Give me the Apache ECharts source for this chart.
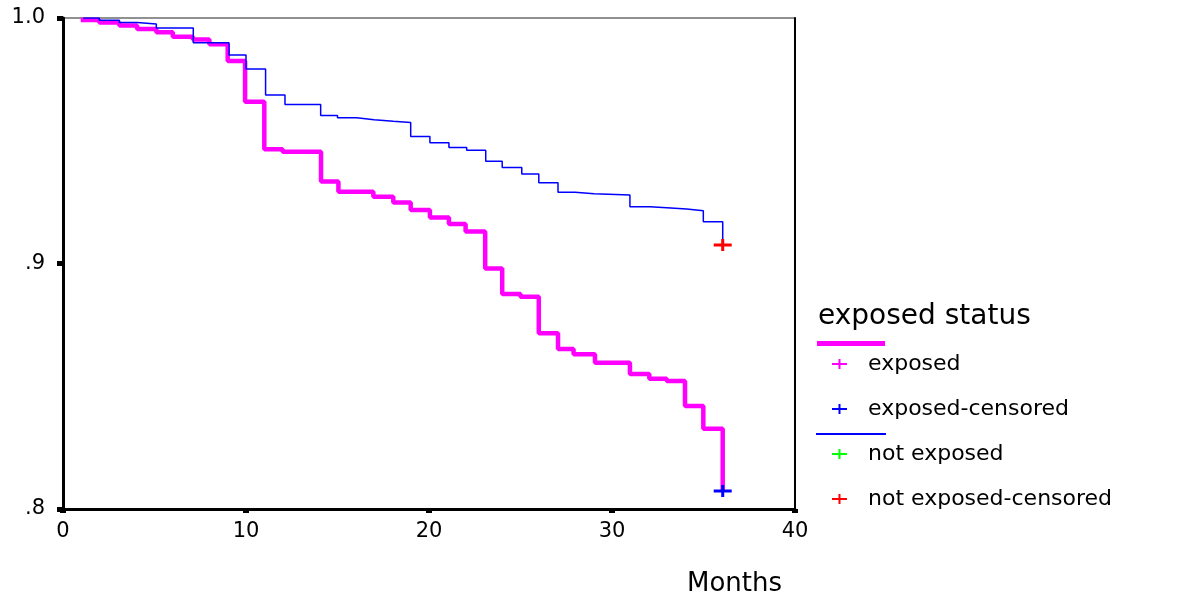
<!DOCTYPE html>
<html>
<head>
<meta charset="utf-8">
<script src="https://cdn.jsdelivr.net/npm/echarts@6/dist/echarts.min.js"></script>
<style>
  html, body { margin: 0; padding: 0; background: #fff; }
  #chart { width: 1178px; height: 599px; }
</style>
</head>
<body>
<div id="chart"></div>
<script>
// survival steps (month, cumulative survival)
var exposedMonths = [0.97, 1.98, 3.08, 4.05, 5.1, 6.0, 7.1, 8.0, 9.0, 9.95, 11.0, 12.0, 14.1, 15.05,
  16.96, 18.05, 19.0, 20.05, 21.09, 22.0, 23.07, 24.0, 25.0, 26.0, 27.05, 27.9, 29.07, 30.98,
  32.04, 32.99, 33.99, 34.99, 36.05]
var exposedSurv = [0.9992, 0.9982, 0.9969, 0.9955, 0.9942, 0.9924, 0.9912, 0.9893, 0.9825, 0.9659,
  0.9465, 0.9455, 0.9334, 0.9292, 0.9272, 0.9248, 0.9218, 0.9187, 0.9161, 0.9130, 0.8980, 0.8876,
  0.8865, 0.8716, 0.8652, 0.8630, 0.8596, 0.8550, 0.8531, 0.8521, 0.8420, 0.8327, 0.8073]

var notExposedMonths = [1.1, 1.98, 3.08, 4.05, 5.1, 7.12, 9.07, 10.0, 11.07, 12.13, 14.08, 15.0,
  16.05, 17.0, 18.05, 19.0, 20.05, 21.09, 22.06, 23.1, 24.0, 25.07, 26.0, 27.05, 27.98, 29.02,
  30.98, 32.08, 32.99, 34.08, 34.99, 36.05]
var notExposedSurv = [1.0, 0.9991, 0.9982, 0.9976, 0.9959, 0.9899, 0.9849, 0.9792, 0.9686, 0.9648,
  0.9603, 0.9594, 0.9586, 0.9579, 0.9574, 0.9517, 0.9492, 0.9472, 0.9461, 0.9416, 0.9391, 0.9365,
  0.9329, 0.9290, 0.9284, 0.9279, 0.9231, 0.9227, 0.9222, 0.9215, 0.9170, 0.9075]

// censored observations
var exposedCensorMonths = [36.05]
var exposedCensorSurv = [0.8073]
var notExposedCensorMonths = [36.05]
var notExposedCensorSurv = [0.9075]

var yTickLabels = {'0.8': '.8', '0.9': '.9', '1': '1.0'}
var legendNames = ['exposed', 'exposed-censored', 'not exposed', 'not exposed-censored']
var legendColors = ['#ff00ff', '#0000ff', '#00ff00', '#ff0000']

var FONT = 'DejaVu Sans'
var PLUS = 'path://M7.5,0H10.5V4.5H18V7.5H10.5V12H7.5V7.5H0V4.5H7.5Z'
var PLUS_THIN = 'path://M6.5,0H8.5V10H6.5Z M0,4H15V6H0Z'

function pairs(xs, ys) {
    return xs.map(function (x, i) { return [x, ys[i]] })
}

var chart = echarts.init(document.getElementById('chart'))

var option = {
    animation: false,
    backgroundColor: '#fff',
    title: [
        {
            text: 'exposed status',
            left: 818, top: 303, padding: 0,
            textStyle: {fontFamily: FONT, fontSize: 28, fontWeight: 'normal', color: '#000'}
        },
        {
            text: 'Months',
            left: 687, top: 571, padding: 0,
            textStyle: {fontFamily: FONT, fontSize: 26, fontWeight: 'normal', color: '#000'}
        }
    ],
    legend: {
        orient: 'vertical',
        left: 832, top: 353, padding: 0,
        itemWidth: 15, itemHeight: 10, itemGap: 23,
        selectedMode: false,
        textStyle: {fontFamily: FONT, fontSize: 22, color: '#000', padding: [0, 0, 0, 16]},
        data: legendNames.map(function (n, i) {
            return {name: n, icon: PLUS_THIN, itemStyle: {color: legendColors[i], borderWidth: 0, opacity: 1}}
        })
    },
    grid: {
        left: 63, top: 18, width: 732, height: 491,
        show: true, borderColor: '#222', borderWidth: 1
    },
    xAxis: {
        type: 'value', min: 0, max: 40, interval: 10,
        splitLine: {show: false},
        axisLine: {lineStyle: {color: '#000', width: 3}},
        axisTick: {length: 4, lineStyle: {color: '#000', width: 6}},
        axisLabel: {margin: 12, fontFamily: FONT, fontSize: 21, color: '#000'}
    },
    yAxis: [
        {
            type: 'value', min: 0.8, max: 1.0, interval: 0.1,
            splitLine: {show: false},
            axisLine: {show: true, lineStyle: {color: '#000', width: 3}},
            axisTick: {show: true, length: 6, lineStyle: {color: '#000', width: 5}},
            axisLabel: {
                margin: 18, fontFamily: FONT, fontSize: 21, color: '#000',
                formatter: function (v) { return yTickLabels[String(Math.round(v * 10) / 10)] }
            }
        },
        {
            type: 'value', min: 0.8, max: 1.0, interval: 0.1, position: 'right',
            splitLine: {show: false},
            axisLine: {show: true, lineStyle: {color: '#000', width: 2}},
            axisTick: {show: false},
            axisLabel: {show: false}
        }
    ],
    series: [
        {
            name: 'exposed',
            type: 'line', step: 'end', symbol: 'none',
            data: pairs(exposedMonths, exposedSurv),
            lineStyle: {color: '#ff00ff', width: 4.5},
            itemStyle: {color: '#ff00ff'}
        },
        {
            name: 'not exposed',
            type: 'line', step: 'end', symbol: 'none',
            data: pairs(notExposedMonths, notExposedSurv),
            lineStyle: {color: '#0000ff', width: 1.5},
            itemStyle: {color: '#0000ff'}
        },
        {
            name: 'exposed-censored',
            type: 'scatter', symbol: PLUS, symbolSize: [18, 12], z: 5,
            data: pairs(exposedCensorMonths, exposedCensorSurv),
            itemStyle: {color: '#0000ff', opacity: 1}
        },
        {
            name: 'not exposed-censored',
            type: 'scatter', symbol: PLUS, symbolSize: [18, 12], z: 5,
            data: pairs(notExposedCensorMonths, notExposedCensorSurv),
            itemStyle: {color: '#ff0000', opacity: 1}
        }
    ],
    // legend key lines under the heading and between the groups
    graphic: [
        {type: 'rect', shape: {x: 817, y: 341, width: 68, height: 5}, style: {fill: '#ff00ff'}},
        {type: 'rect', shape: {x: 816, y: 433, width: 70, height: 2}, style: {fill: '#0000ff'}}
    ]
}

chart.setOption(option)
</script>
</body>
</html>
